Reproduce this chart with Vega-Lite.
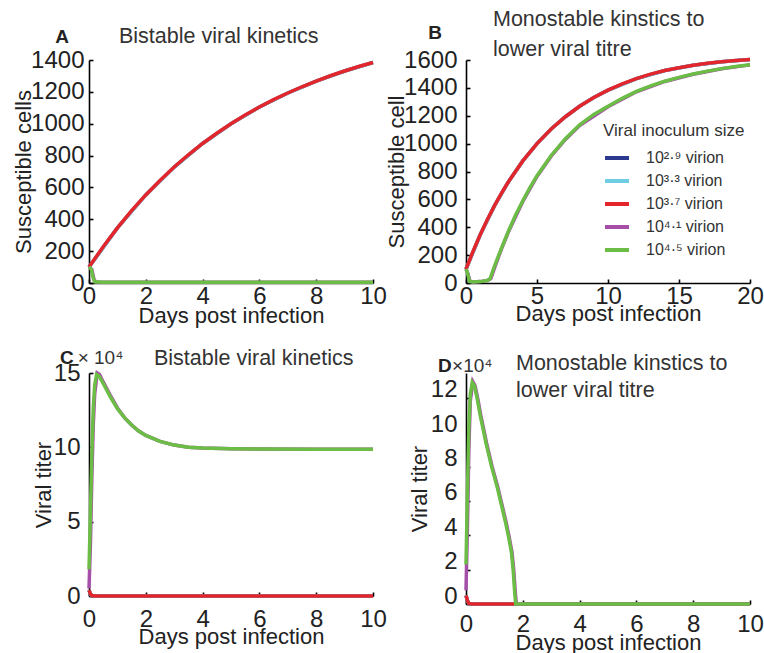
{
  "$schema": "https://vega.github.io/schema/vega-lite/v6.json",
  "padding": {"left": 12, "top": 8, "right": 0, "bottom": 0},
  "background": "white",
  "data": {"values": [
    {"panel":"A","inoc":"2.9","t":0,"v":100},{"panel":"A","inoc":"2.9","t":1,"v":346},{"panel":"A","inoc":"2.9","t":2,"v":553},{"panel":"A","inoc":"2.9","t":3,"v":728},{"panel":"A","inoc":"2.9","t":4,"v":876},{"panel":"A","inoc":"2.9","t":5,"v":1000},{"panel":"A","inoc":"2.9","t":6,"v":1105},{"panel":"A","inoc":"2.9","t":7,"v":1193},{"panel":"A","inoc":"2.9","t":8,"v":1268},{"panel":"A","inoc":"2.9","t":9,"v":1331},{"panel":"A","inoc":"2.9","t":10,"v":1384},
    {"panel":"A","inoc":"3.3","t":0,"v":100},{"panel":"A","inoc":"3.3","t":1,"v":346},{"panel":"A","inoc":"3.3","t":2,"v":553},{"panel":"A","inoc":"3.3","t":3,"v":728},{"panel":"A","inoc":"3.3","t":4,"v":876},{"panel":"A","inoc":"3.3","t":5,"v":1000},{"panel":"A","inoc":"3.3","t":6,"v":1105},{"panel":"A","inoc":"3.3","t":7,"v":1193},{"panel":"A","inoc":"3.3","t":8,"v":1268},{"panel":"A","inoc":"3.3","t":9,"v":1331},{"panel":"A","inoc":"3.3","t":10,"v":1384},
    {"panel":"A","inoc":"3.7","t":0,"v":100},{"panel":"A","inoc":"3.7","t":0.5,"v":228},{"panel":"A","inoc":"3.7","t":1,"v":346},{"panel":"A","inoc":"3.7","t":1.5,"v":454},{"panel":"A","inoc":"3.7","t":2,"v":553},{"panel":"A","inoc":"3.7","t":2.5,"v":644},{"panel":"A","inoc":"3.7","t":3,"v":728},{"panel":"A","inoc":"3.7","t":3.5,"v":805},{"panel":"A","inoc":"3.7","t":4,"v":876},{"panel":"A","inoc":"3.7","t":4.5,"v":940},{"panel":"A","inoc":"3.7","t":5,"v":1000},{"panel":"A","inoc":"3.7","t":5.5,"v":1055},{"panel":"A","inoc":"3.7","t":6,"v":1105},{"panel":"A","inoc":"3.7","t":6.5,"v":1151},{"panel":"A","inoc":"3.7","t":7,"v":1193},{"panel":"A","inoc":"3.7","t":7.5,"v":1232},{"panel":"A","inoc":"3.7","t":8,"v":1268},{"panel":"A","inoc":"3.7","t":8.5,"v":1301},{"panel":"A","inoc":"3.7","t":9,"v":1331},{"panel":"A","inoc":"3.7","t":9.5,"v":1359},{"panel":"A","inoc":"3.7","t":10,"v":1384},
    {"panel":"A","inoc":"4.1","t":0,"v":100},{"panel":"A","inoc":"4.1","t":0.1,"v":85},{"panel":"A","inoc":"4.1","t":0.18,"v":20},{"panel":"A","inoc":"4.1","t":0.25,"v":6},{"panel":"A","inoc":"4.1","t":1,"v":5},{"panel":"A","inoc":"4.1","t":10,"v":5},
    {"panel":"A","inoc":"4.5","t":0,"v":100},{"panel":"A","inoc":"4.5","t":0.08,"v":88},{"panel":"A","inoc":"4.5","t":0.15,"v":30},{"panel":"A","inoc":"4.5","t":0.2,"v":8},{"panel":"A","inoc":"4.5","t":0.5,"v":5},{"panel":"A","inoc":"4.5","t":10,"v":5},

    {"panel":"B","inoc":"2.9","t":0,"v":100},{"panel":"B","inoc":"2.9","t":1,"v":346},{"panel":"B","inoc":"2.9","t":2,"v":553},{"panel":"B","inoc":"2.9","t":3,"v":728},{"panel":"B","inoc":"2.9","t":4,"v":876},{"panel":"B","inoc":"2.9","t":5,"v":1000},{"panel":"B","inoc":"2.9","t":6,"v":1105},{"panel":"B","inoc":"2.9","t":7,"v":1193},{"panel":"B","inoc":"2.9","t":8,"v":1268},{"panel":"B","inoc":"2.9","t":9,"v":1331},{"panel":"B","inoc":"2.9","t":10,"v":1384},{"panel":"B","inoc":"2.9","t":12,"v":1467},{"panel":"B","inoc":"2.9","t":14,"v":1525},{"panel":"B","inoc":"2.9","t":16,"v":1562},{"panel":"B","inoc":"2.9","t":18,"v":1587},{"panel":"B","inoc":"2.9","t":20,"v":1603},
    {"panel":"B","inoc":"3.3","t":0,"v":100},{"panel":"B","inoc":"3.3","t":1,"v":346},{"panel":"B","inoc":"3.3","t":2,"v":553},{"panel":"B","inoc":"3.3","t":3,"v":728},{"panel":"B","inoc":"3.3","t":4,"v":876},{"panel":"B","inoc":"3.3","t":5,"v":1000},{"panel":"B","inoc":"3.3","t":6,"v":1105},{"panel":"B","inoc":"3.3","t":7,"v":1193},{"panel":"B","inoc":"3.3","t":8,"v":1268},{"panel":"B","inoc":"3.3","t":9,"v":1331},{"panel":"B","inoc":"3.3","t":10,"v":1384},{"panel":"B","inoc":"3.3","t":12,"v":1467},{"panel":"B","inoc":"3.3","t":14,"v":1525},{"panel":"B","inoc":"3.3","t":16,"v":1562},{"panel":"B","inoc":"3.3","t":18,"v":1587},{"panel":"B","inoc":"3.3","t":20,"v":1603},
    {"panel":"B","inoc":"3.7","t":0,"v":100},{"panel":"B","inoc":"3.7","t":0.5,"v":228},{"panel":"B","inoc":"3.7","t":1,"v":346},{"panel":"B","inoc":"3.7","t":1.5,"v":454},{"panel":"B","inoc":"3.7","t":2,"v":553},{"panel":"B","inoc":"3.7","t":2.5,"v":644},{"panel":"B","inoc":"3.7","t":3,"v":728},{"panel":"B","inoc":"3.7","t":4,"v":876},{"panel":"B","inoc":"3.7","t":5,"v":1000},{"panel":"B","inoc":"3.7","t":6,"v":1105},{"panel":"B","inoc":"3.7","t":7,"v":1193},{"panel":"B","inoc":"3.7","t":8,"v":1268},{"panel":"B","inoc":"3.7","t":9,"v":1331},{"panel":"B","inoc":"3.7","t":10,"v":1384},{"panel":"B","inoc":"3.7","t":11,"v":1429},{"panel":"B","inoc":"3.7","t":12,"v":1467},{"panel":"B","inoc":"3.7","t":13,"v":1499},{"panel":"B","inoc":"3.7","t":14,"v":1525},{"panel":"B","inoc":"3.7","t":15,"v":1545},{"panel":"B","inoc":"3.7","t":16,"v":1562},{"panel":"B","inoc":"3.7","t":17,"v":1576},{"panel":"B","inoc":"3.7","t":18,"v":1587},{"panel":"B","inoc":"3.7","t":19,"v":1596},{"panel":"B","inoc":"3.7","t":20,"v":1603},
    {"panel":"B","inoc":"4.1","t":0,"v":100},{"panel":"B","inoc":"4.1","t":0.12,"v":72},{"panel":"B","inoc":"4.1","t":0.28,"v":12},{"panel":"B","inoc":"4.1","t":0.5,"v":8},{"panel":"B","inoc":"4.1","t":1,"v":10},{"panel":"B","inoc":"4.1","t":1.5,"v":18},{"panel":"B","inoc":"4.1","t":1.75,"v":32},{"panel":"B","inoc":"4.1","t":2.05,"v":120},{"panel":"B","inoc":"4.1","t":2.5,"v":245},{"panel":"B","inoc":"4.1","t":3,"v":370},{"panel":"B","inoc":"4.1","t":4,"v":585},{"panel":"B","inoc":"4.1","t":5,"v":765},{"panel":"B","inoc":"4.1","t":6,"v":910},{"panel":"B","inoc":"4.1","t":7,"v":1030},{"panel":"B","inoc":"4.1","t":8,"v":1130},{"panel":"B","inoc":"4.1","t":10,"v":1265},{"panel":"B","inoc":"4.1","t":12,"v":1372},{"panel":"B","inoc":"4.1","t":14,"v":1446},{"panel":"B","inoc":"4.1","t":16,"v":1498},{"panel":"B","inoc":"4.1","t":18,"v":1537},{"panel":"B","inoc":"4.1","t":20,"v":1565},
    {"panel":"B","inoc":"4.5","t":0,"v":100},{"panel":"B","inoc":"4.5","t":0.1,"v":75},{"panel":"B","inoc":"4.5","t":0.25,"v":12},{"panel":"B","inoc":"4.5","t":0.5,"v":8},{"panel":"B","inoc":"4.5","t":1,"v":10},{"panel":"B","inoc":"4.5","t":1.5,"v":18},{"panel":"B","inoc":"4.5","t":1.7,"v":32},{"panel":"B","inoc":"4.5","t":2,"v":120},{"panel":"B","inoc":"4.5","t":2.5,"v":250},{"panel":"B","inoc":"4.5","t":3,"v":375},{"panel":"B","inoc":"4.5","t":3.5,"v":490},{"panel":"B","inoc":"4.5","t":4,"v":590},{"panel":"B","inoc":"4.5","t":4.5,"v":685},{"panel":"B","inoc":"4.5","t":5,"v":770},{"panel":"B","inoc":"4.5","t":6,"v":915},{"panel":"B","inoc":"4.5","t":7,"v":1035},{"panel":"B","inoc":"4.5","t":8,"v":1135},{"panel":"B","inoc":"4.5","t":9,"v":1210},{"panel":"B","inoc":"4.5","t":10,"v":1268},{"panel":"B","inoc":"4.5","t":11,"v":1325},{"panel":"B","inoc":"4.5","t":12,"v":1375},{"panel":"B","inoc":"4.5","t":13,"v":1415},{"panel":"B","inoc":"4.5","t":14,"v":1448},{"panel":"B","inoc":"4.5","t":15,"v":1475},{"panel":"B","inoc":"4.5","t":16,"v":1500},{"panel":"B","inoc":"4.5","t":17,"v":1520},{"panel":"B","inoc":"4.5","t":18,"v":1538},{"panel":"B","inoc":"4.5","t":19,"v":1553},{"panel":"B","inoc":"4.5","t":20,"v":1566},

    {"panel":"C","inoc":"2.9","t":0,"v":0.4},{"panel":"C","inoc":"2.9","t":0.05,"v":0.15},{"panel":"C","inoc":"2.9","t":0.1,"v":0.03},{"panel":"C","inoc":"2.9","t":0.2,"v":0},{"panel":"C","inoc":"2.9","t":10,"v":0},
    {"panel":"C","inoc":"3.3","t":0,"v":0.4},{"panel":"C","inoc":"3.3","t":0.05,"v":0.15},{"panel":"C","inoc":"3.3","t":0.1,"v":0.03},{"panel":"C","inoc":"3.3","t":0.2,"v":0},{"panel":"C","inoc":"3.3","t":10,"v":0},
    {"panel":"C","inoc":"3.7","t":0,"v":0.4},{"panel":"C","inoc":"3.7","t":0.05,"v":0.15},{"panel":"C","inoc":"3.7","t":0.1,"v":0.03},{"panel":"C","inoc":"3.7","t":0.2,"v":0},{"panel":"C","inoc":"3.7","t":10,"v":0},
    {"panel":"C","inoc":"4.1","t":0,"v":0.5},{"panel":"C","inoc":"4.1","t":0.05,"v":3.5},{"panel":"C","inoc":"4.1","t":0.1,"v":8},{"panel":"C","inoc":"4.1","t":0.15,"v":11.5},{"panel":"C","inoc":"4.1","t":0.2,"v":13.6},{"panel":"C","inoc":"4.1","t":0.29,"v":15.0},{"panel":"C","inoc":"4.1","t":0.37,"v":14.9},{"panel":"C","inoc":"4.1","t":0.5,"v":14.4},{"panel":"C","inoc":"4.1","t":0.75,"v":13.5},{"panel":"C","inoc":"4.1","t":1,"v":12.65},{"panel":"C","inoc":"4.1","t":1.25,"v":12.0},{"panel":"C","inoc":"4.1","t":1.5,"v":11.5},{"panel":"C","inoc":"4.1","t":1.75,"v":11.1},{"panel":"C","inoc":"4.1","t":2,"v":10.8},{"panel":"C","inoc":"4.1","t":2.5,"v":10.4},{"panel":"C","inoc":"4.1","t":3,"v":10.15},{"panel":"C","inoc":"4.1","t":3.5,"v":10.0},{"panel":"C","inoc":"4.1","t":4,"v":9.95},{"panel":"C","inoc":"4.1","t":5,"v":9.9},{"panel":"C","inoc":"4.1","t":6,"v":9.88},{"panel":"C","inoc":"4.1","t":8,"v":9.87},{"panel":"C","inoc":"4.1","t":10,"v":9.87},
    {"panel":"C","inoc":"4.5","t":0,"v":1.8},{"panel":"C","inoc":"4.5","t":0.05,"v":5.5},{"panel":"C","inoc":"4.5","t":0.1,"v":9.5},{"panel":"C","inoc":"4.5","t":0.15,"v":12.6},{"panel":"C","inoc":"4.5","t":0.2,"v":14.2},{"panel":"C","inoc":"4.5","t":0.27,"v":14.9},{"panel":"C","inoc":"4.5","t":0.35,"v":14.8},{"panel":"C","inoc":"4.5","t":0.5,"v":14.3},{"panel":"C","inoc":"4.5","t":0.75,"v":13.4},{"panel":"C","inoc":"4.5","t":1,"v":12.6},{"panel":"C","inoc":"4.5","t":1.25,"v":12.0},{"panel":"C","inoc":"4.5","t":1.5,"v":11.5},{"panel":"C","inoc":"4.5","t":1.75,"v":11.1},{"panel":"C","inoc":"4.5","t":2,"v":10.8},{"panel":"C","inoc":"4.5","t":2.5,"v":10.4},{"panel":"C","inoc":"4.5","t":3,"v":10.15},{"panel":"C","inoc":"4.5","t":3.5,"v":10.0},{"panel":"C","inoc":"4.5","t":4,"v":9.95},{"panel":"C","inoc":"4.5","t":5,"v":9.9},{"panel":"C","inoc":"4.5","t":6,"v":9.88},{"panel":"C","inoc":"4.5","t":8,"v":9.87},{"panel":"C","inoc":"4.5","t":10,"v":9.87},

    {"panel":"D","inoc":"2.9","t":0,"v":0.5},{"panel":"D","inoc":"2.9","t":0.05,"v":0.2},{"panel":"D","inoc":"2.9","t":0.1,"v":0.03},{"panel":"D","inoc":"2.9","t":0.2,"v":0},{"panel":"D","inoc":"2.9","t":10,"v":0},
    {"panel":"D","inoc":"3.3","t":0,"v":0.5},{"panel":"D","inoc":"3.3","t":0.05,"v":0.2},{"panel":"D","inoc":"3.3","t":0.1,"v":0.03},{"panel":"D","inoc":"3.3","t":0.2,"v":0},{"panel":"D","inoc":"3.3","t":10,"v":0},
    {"panel":"D","inoc":"3.7","t":0,"v":0.5},{"panel":"D","inoc":"3.7","t":0.05,"v":0.2},{"panel":"D","inoc":"3.7","t":0.1,"v":0.03},{"panel":"D","inoc":"3.7","t":0.2,"v":0},{"panel":"D","inoc":"3.7","t":10,"v":0},
    {"panel":"D","inoc":"4.1","t":0,"v":0.8},{"panel":"D","inoc":"4.1","t":0.05,"v":4.5},{"panel":"D","inoc":"4.1","t":0.1,"v":9},{"panel":"D","inoc":"4.1","t":0.15,"v":11.8},{"panel":"D","inoc":"4.1","t":0.24,"v":12.95},{"panel":"D","inoc":"4.1","t":0.32,"v":12.7},{"panel":"D","inoc":"4.1","t":0.42,"v":11.9},{"panel":"D","inoc":"4.1","t":0.52,"v":11.0},{"panel":"D","inoc":"4.1","t":0.62,"v":10.2},{"panel":"D","inoc":"4.1","t":0.72,"v":9.4},{"panel":"D","inoc":"4.1","t":0.82,"v":8.7},{"panel":"D","inoc":"4.1","t":0.92,"v":8.0},{"panel":"D","inoc":"4.1","t":1.02,"v":7.4},{"panel":"D","inoc":"4.1","t":1.12,"v":6.8},{"panel":"D","inoc":"4.1","t":1.22,"v":6.1},{"panel":"D","inoc":"4.1","t":1.32,"v":5.4},{"panel":"D","inoc":"4.1","t":1.42,"v":4.7},{"panel":"D","inoc":"4.1","t":1.52,"v":3.9},{"panel":"D","inoc":"4.1","t":1.62,"v":3.0},{"panel":"D","inoc":"4.1","t":1.68,"v":2.0},{"panel":"D","inoc":"4.1","t":1.73,"v":0.8},{"panel":"D","inoc":"4.1","t":1.77,"v":0},{"panel":"D","inoc":"4.1","t":10,"v":0},
    {"panel":"D","inoc":"4.5","t":0,"v":2.3},{"panel":"D","inoc":"4.5","t":0.05,"v":6.5},{"panel":"D","inoc":"4.5","t":0.1,"v":10.2},{"panel":"D","inoc":"4.5","t":0.15,"v":12.2},{"panel":"D","inoc":"4.5","t":0.22,"v":12.9},{"panel":"D","inoc":"4.5","t":0.3,"v":12.7},{"panel":"D","inoc":"4.5","t":0.4,"v":11.9},{"panel":"D","inoc":"4.5","t":0.5,"v":11.0},{"panel":"D","inoc":"4.5","t":0.6,"v":10.2},{"panel":"D","inoc":"4.5","t":0.7,"v":9.4},{"panel":"D","inoc":"4.5","t":0.8,"v":8.7},{"panel":"D","inoc":"4.5","t":0.9,"v":8.0},{"panel":"D","inoc":"4.5","t":1.0,"v":7.4},{"panel":"D","inoc":"4.5","t":1.1,"v":6.8},{"panel":"D","inoc":"4.5","t":1.2,"v":6.1},{"panel":"D","inoc":"4.5","t":1.3,"v":5.4},{"panel":"D","inoc":"4.5","t":1.4,"v":4.7},{"panel":"D","inoc":"4.5","t":1.5,"v":3.9},{"panel":"D","inoc":"4.5","t":1.6,"v":3.0},{"panel":"D","inoc":"4.5","t":1.66,"v":2.0},{"panel":"D","inoc":"4.5","t":1.71,"v":0.8},{"panel":"D","inoc":"4.5","t":1.75,"v":0},{"panel":"D","inoc":"4.5","t":2,"v":0},{"panel":"D","inoc":"4.5","t":10,"v":0}
  ]},
  "concat": [
    {
      "width": 284, "height": 223,
      "title": {"text": "Bistable viral kinetics", "dx": 30, "offset": -19},
      "layer": [
        {
          "transform": [{"filter": "datum.panel === 'A'"}],
          "mark": {"type": "line", "strokeWidth": 3.5},
          "encoding": {
            "x": {"field": "t", "type": "quantitative", "scale": {"domain": [0, 10], "nice": false},
                  "axis": {"values": [0,2,4,6,8,10], "tickCount": 30, "format": "d", "title": "Days post infection", "labelPadding": 5, "titlePadding": -3}},
            "y": {"field": "v", "type": "quantitative", "scale": {"domain": [0, 1400], "nice": false},
                  "axis": {"values": [0,200,400,600,800,1000,1200,1400], "tickCount": 30, "format": "d", "title": "Susceptible cells", "labelPadding": 9, "titlePadding": -5}},
            "color": {"field": "inoc", "type": "nominal", "legend": null}
          }
        },
        {
          "data": {"values": [{}]},
          "mark": {"type": "text", "fontWeight": "bold", "fontSize": 19, "baseline": "middle", "align": "center", "color": "#222"},
          "encoding": {"x": {"datum": -0.95, "type": "quantitative"}, "y": {"datum": 1543, "type": "quantitative"}, "text": {"value": "A"}}
        }
      ]
    },
    {
      "width": 284, "height": 223,
      "title": {"text": ["Monostable kinstics to", "lower viral titre"], "dx": 27, "offset": -36, "lineHeight": 30},
      "layer": [
        {
          "transform": [{"filter": "datum.panel === 'B'"}],
          "mark": {"type": "line", "strokeWidth": 3.5},
          "encoding": {
            "x": {"field": "t", "type": "quantitative", "scale": {"domain": [0, 20], "nice": false},
                  "axis": {"values": [0,5,10,15,20], "tickCount": 30, "format": "d", "title": "Days post infection", "labelPadding": 5, "titlePadding": -5}},
            "y": {"field": "v", "type": "quantitative", "scale": {"domain": [0, 1600], "nice": false},
                  "axis": {"values": [0,200,400,600,800,1000,1200,1400,1600], "tickCount": 30, "format": "d", "title": "Susceptible cell", "labelPadding": 13, "titlePadding": -5}},
            "color": {"field": "inoc", "type": "nominal",
                      "legend": {"orient": "none", "legendX": 137, "legendY": 63, "title": "Viral inoculum size",
                                 "labelExpr": "datum.label === '2.9' ? '10²·⁹ virion' : datum.label === '3.3' ? '10³·³ virion' : datum.label === '3.7' ? '10³·⁷ virion' : datum.label === '4.1' ? '10⁴·¹ virion' : '10⁴·⁵ virion'"}}
          }
        },
        {
          "data": {"values": [{}]},
          "mark": {"type": "text", "fontWeight": "bold", "fontSize": 19, "baseline": "middle", "align": "center", "color": "#222"},
          "encoding": {"x": {"datum": -2.18, "type": "quantitative"}, "y": {"datum": 1793, "type": "quantitative"}, "text": {"value": "B"}}
        }
      ]
    },
    {
      "width": 284, "height": 223,
      "title": {"text": "Bistable viral kinetics", "dx": 65, "offset": -20},
      "layer": [
        {
          "transform": [{"filter": "datum.panel === 'C'"}],
          "mark": {"type": "line", "strokeWidth": 3.5},
          "encoding": {
            "x": {"field": "t", "type": "quantitative", "scale": {"domain": [0, 10], "nice": false},
                  "axis": {"values": [0,2,4,6,8,10], "tickCount": 30, "format": "d", "title": "Days post infection", "labelPadding": 15, "titlePadding": -5}},
            "y": {"field": "v", "type": "quantitative", "scale": {"domain": [0, 15], "nice": false},
                  "axis": {"values": [0,5,10,15], "tickCount": 30, "format": "d", "title": "Viral titer", "labelPadding": 13, "titlePadding": -2}},
            "color": {"field": "inoc", "type": "nominal", "legend": null}
          }
        },
        {
          "data": {"values": [{}]},
          "mark": {"type": "text", "fontWeight": "bold", "fontSize": 19, "baseline": "middle", "align": "center", "color": "#222"},
          "encoding": {"x": {"datum": -0.78, "type": "quantitative"}, "y": {"datum": 16.0, "type": "quantitative"}, "text": {"value": "C"}}
        },
        {
          "data": {"values": [{}]},
          "mark": {"type": "text", "fontSize": 19, "baseline": "middle", "align": "left", "color": "#333"},
          "encoding": {"x": {"datum": -0.4, "type": "quantitative"}, "y": {"datum": 16.0, "type": "quantitative"}, "text": {"value": "× 10⁴"}}
        }
      ]
    },
    {
      "width": 284, "height": 231,
      "title": {"text": ["Monostable kinstics to", "lower viral titre"], "dx": 50, "offset": -45, "lineHeight": 27},
      "layer": [
        {
          "transform": [{"filter": "datum.panel === 'D'"}],
          "mark": {"type": "line", "strokeWidth": 3.5},
          "encoding": {
            "x": {"field": "t", "type": "quantitative", "scale": {"domain": [0, 10], "nice": false},
                  "axis": {"values": [0,2,4,6,8,10], "tickCount": 30, "format": "d", "title": "Days post infection", "labelPadding": 12, "titlePadding": -4}},
            "y": {"field": "v", "type": "quantitative", "scale": {"domain": [0, 13.45], "nice": false},
                  "axis": {"values": [0,2,4,6,8,10,12], "tickCount": 30, "format": "d", "title": "Viral titer", "labelPadding": 13, "titlePadding": -1, "labelOffset": -8}},
            "color": {"field": "inoc", "type": "nominal", "legend": null}
          }
        },
        {
          "data": {"values": [{}]},
          "mark": {"type": "text", "fontWeight": "bold", "fontSize": 19, "baseline": "middle", "align": "center", "color": "#222"},
          "encoding": {"x": {"datum": -0.74, "type": "quantitative"}, "y": {"datum": 13.88, "type": "quantitative"}, "text": {"value": "D"}}
        },
        {
          "data": {"values": [{}]},
          "mark": {"type": "text", "fontSize": 19, "baseline": "middle", "align": "left", "color": "#333"},
          "encoding": {"x": {"datum": -0.49, "type": "quantitative"}, "y": {"datum": 13.88, "type": "quantitative"}, "text": {"value": "×10⁴"}}
        }
      ]
    }
  ],
  "columns": 2,
  "spacing": {"column": 93, "row": 90},
  "bounds": "flush",
  "resolve": {"legend": {"color": "independent"}},
  "config": {
    "font": "Liberation Sans",
    "view": {"stroke": null},
    "range": {"category": ["#2B3A8F", "#6FCDE3", "#E2262B", "#A64FA8", "#6CBD45"]},
    "axis": {"domainColor": "#000", "domainWidth": 1.6, "tickColor": "#000", "tickWidth": 1.6, "tickSize": -4,
             "labelFontSize": 24, "labelColor": "#222", "labelFlush": false, "labelOverlap": false, "labelFont": "Liberation Sans",
             "titleFontSize": 22, "titleFontWeight": "normal", "titleColor": "#222", "titleFont": "Liberation Sans", "grid": false},
    "title": {"anchor": "start", "frame": "group", "fontSize": 21.5, "fontWeight": "normal", "color": "#333", "font": "Liberation Sans"},
    "legend": {"titleFontSize": 17, "titleFontWeight": "normal", "titleColor": "#333", "titleFont": "Liberation Sans", "titlePadding": 4,
               "labelFontSize": 16, "labelColor": "#333", "labelFont": "Liberation Sans", "labelOffset": 15,
               "symbolType": "stroke", "symbolStrokeWidth": 4, "symbolSize": 576, "rowPadding": 1}
  }
}
